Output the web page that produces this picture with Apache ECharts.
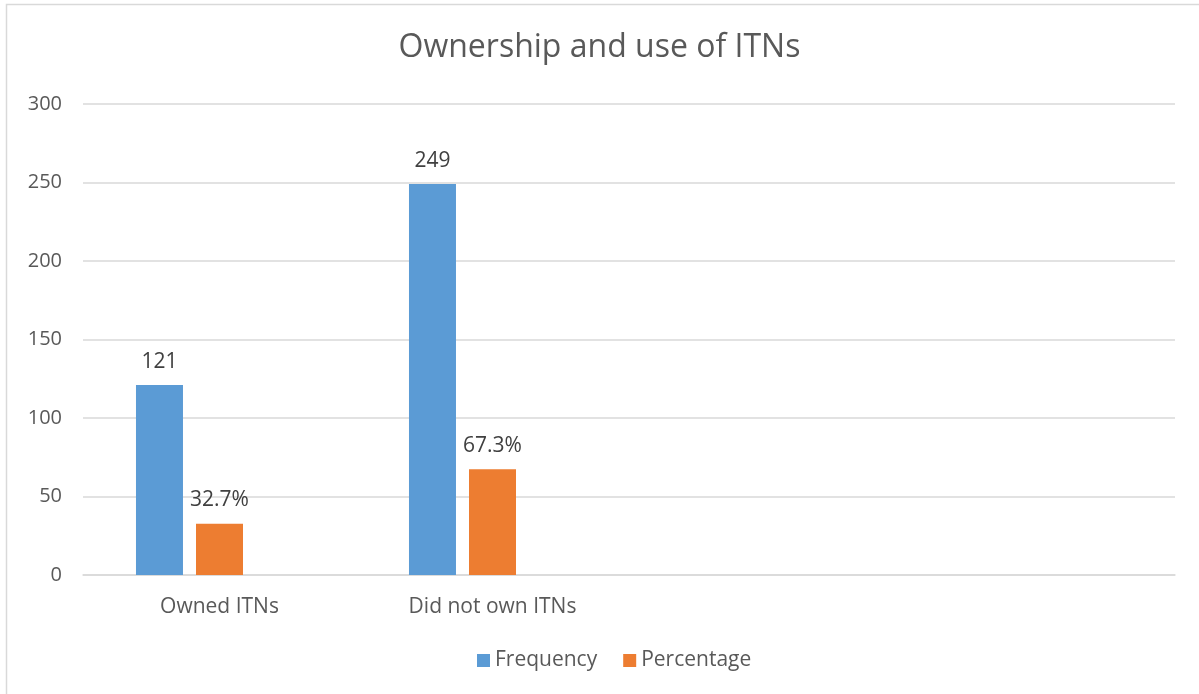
<!DOCTYPE html>
<html>
<head>
<meta charset="utf-8">
<script src="https://cdn.jsdelivr.net/npm/echarts@6/dist/echarts.min.js"></script>
<style>html,body{margin:0;padding:0;background:#fff}#c{width:1199px;height:694px}</style>
</head>
<body>
<div id="c"></div>
<script>
const categories = ['Owned ITNs', 'Did not own ITNs', '', ''];
const frequency = [121, 249, null, null];
const percentage = [32.7, 67.3, null, null];
const percentageLabels = ['32.7%', '67.3%', '', ''];
const yTicks = [0, 50, 100, 150, 200, 250, 300];

const FONT = 'Open Sans';
const chart = echarts.init(document.getElementById('c'), null, {renderer: 'canvas'});
chart.setOption({
  animation: false,
  backgroundColor: '#ffffff',
  textStyle: {fontFamily: FONT},
  title: {
    text: 'Ownership and use of ITNs',
    left: 'center',
    top: 27,
    textStyle: {fontFamily: FONT, fontSize: 32, fontWeight: 'normal', color: '#595959'}
  },
  graphic: [{
    type: 'rect',
    shape: {x: 6.5, y: 4.5, width: 1300, height: 800},
    style: {fill: 'none', stroke: '#d9d9d9', lineWidth: 1.5},
    silent: true
  }],
  legend: {
    data: ['Frequency', 'Percentage'],
    bottom: 18,
    left: 472,
    icon: 'rect',
    itemWidth: 13,
    itemHeight: 13,
    itemGap: 26,
    textStyle: {fontFamily: FONT, fontSize: 21, color: '#595959'}
  },
  grid: {left: 83, right: 24, top: 104, bottom: 119, containLabel: false},
  xAxis: {
    type: 'category',
    data: categories,
    axisLine: {lineStyle: {color: '#d9d9d9', width: 1.5}},
    axisTick: {show: false},
    axisLabel: {fontFamily: FONT, fontSize: 21, color: '#595959', margin: 22}
  },
  yAxis: {
    type: 'value',
    min: 0, max: 300, interval: 50,
    axisLine: {show: false},
    axisTick: {show: false},
    splitLine: {lineStyle: {color: '#d9d9d9', width: 1.5}},
    axisLabel: {fontFamily: FONT, fontSize: 20, color: '#595959', margin: 21,
      formatter: v => yTicks.includes(v) ? String(v) : ''}
  },
  series: [
    {
      name: 'Frequency', type: 'bar', data: frequency,
      barWidth: 47, barGap: '27.7%',
      itemStyle: {color: '#5b9bd5'},
      label: {show: true, position: 'top', distance: 13, fontFamily: FONT, fontSize: 21, color: '#404040'}
    },
    {
      name: 'Percentage', type: 'bar', data: percentage,
      barWidth: 47, barGap: '27.7%',
      itemStyle: {color: '#ed7d31'},
      label: {show: true, position: 'top', distance: 13, fontFamily: FONT, fontSize: 21, color: '#404040',
        formatter: p => percentageLabels[p.dataIndex]}
    },
    {
      name: '', type: 'bar', data: [null, null, null, null],
      barWidth: 47, barGap: '27.7%',
      itemStyle: {color: '#a5a5a5'}
    }
  ]
});
</script>
</body>
</html>
